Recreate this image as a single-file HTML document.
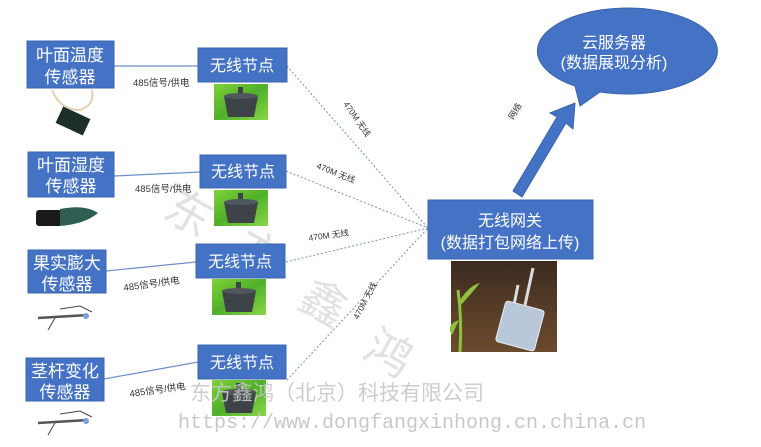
<!DOCTYPE html>
<html><head><meta charset="utf-8"><style>
html,body{margin:0;padding:0;background:#fff;width:761px;height:447px;overflow:hidden}
svg text{font-family:"Liberation Sans","Noto Sans CJK SC",sans-serif}
</style></head><body>
<svg width="761" height="447" viewBox="0 0 761 447" xmlns="http://www.w3.org/2000/svg">
<defs>
<linearGradient id="grass" x1="0" y1="0" x2="1" y2="1"><stop offset="0" stop-color="#7fd23a"/><stop offset="0.5" stop-color="#4fb02a"/><stop offset="1" stop-color="#8bd648"/></linearGradient>
<linearGradient id="soil" x1="0" y1="0" x2="0" y2="1"><stop offset="0" stop-color="#3a2a1e"/><stop offset="0.6" stop-color="#5a3f28"/><stop offset="1" stop-color="#6b4a2e"/></linearGradient>
<g id="node">
<rect x="0" y="0" width="54" height="36" fill="url(#grass)"/>
<path d="M10 12 L44 12 L40 33 L14 33 Z" fill="#3d4347"/>
<rect x="24" y="3" width="5" height="11" fill="#3d4347"/>
<ellipse cx="27" cy="12" rx="17" ry="3" fill="#50575c"/>
</g>
</defs>

<g fill="#dcdcdc" font-size="46" opacity="0.85">
<text x="165" y="230" transform="rotate(30 190 215)">东</text>
<text x="235" y="270" transform="rotate(30 260 255)">方</text>
<text x="300" y="320" transform="rotate(30 325 305)">鑫</text>
<text x="365" y="370" transform="rotate(30 390 355)">鸿</text>
</g>

<g stroke="#6f8fc8" stroke-width="1.2">
<line x1="114" y1="66" x2="198" y2="66"/>
<line x1="114" y1="176" x2="200" y2="172"/>
<line x1="106" y1="271" x2="196" y2="262"/>
<line x1="104" y1="379" x2="198" y2="362"/>
</g>
<g stroke="#7a8fc0" stroke-width="1" stroke-dasharray="2,2">
<line x1="287" y1="66" x2="428" y2="228"/>
<line x1="286" y1="171" x2="428" y2="228"/>
<line x1="286" y1="262" x2="428" y2="228"/>
<line x1="287" y1="380" x2="428" y2="228"/>
</g>

<g fill="#4472c4" stroke="#3a64ad">
<rect x="27" y="41" width="87" height="47"/>
<rect x="28" y="152" width="86" height="45"/>
<rect x="28" y="250" width="78" height="43"/>
<rect x="26" y="358" width="78" height="43"/>
</g>
<g fill="#fff" font-size="17" text-anchor="middle">
<text x="70" y="61">叶面温度</text><text x="70" y="83">传感器</text>
<text x="71" y="171">叶面湿度</text><text x="71" y="192">传感器</text>
<text x="67" y="269">果实膨大</text><text x="67" y="290">传感器</text>
<text x="65" y="377">茎杆变化</text><text x="65" y="398">传感器</text>
</g>
<g fill="#333" font-size="9.5">
<text x="133" y="86">485信号/供电</text>
<text x="135" y="192">485信号/供电</text>
<text x="124" y="291" transform="rotate(-8 124 291)">485信号/供电</text>
<text x="130" y="397" transform="rotate(-8 130 397)">485信号/供电</text>
</g>

<path d="M52 90 Q60 110 80 110 Q95 105 92 90" fill="none" stroke="#e2d0b0" stroke-width="2"/>
<rect x="58" y="112" width="30" height="18" fill="#1d2f2a" transform="rotate(25 73 121)"/>
<rect x="36" y="210" width="26" height="16" rx="3" fill="#1a1a1a"/>
<path d="M60 209 Q85 204 98 213 Q85 224 60 226 Z" fill="#2f5e55"/>
<g stroke="#555" stroke-width="2.5"><line x1="38" y1="318" x2="88" y2="315"/><line x1="38" y1="423" x2="88" y2="420"/></g>
<g stroke="#444" stroke-width="1" fill="none"><path d="M55 318 L48 330 M60 309 L80 306 L92 312"/><path d="M55 423 L48 435 M60 414 L80 411 L92 417"/></g>
<circle cx="86" cy="316" r="3" fill="#7aa0e0"/><circle cx="86" cy="421" r="3" fill="#7aa0e0"/>

<g fill="#4472c4" stroke="#3a64ad">
<rect x="198" y="48" width="89" height="34"/>
<rect x="200" y="155" width="86" height="33"/>
<rect x="196" y="244" width="89" height="34"/>
<rect x="198" y="345" width="88" height="34"/>
</g>
<g fill="#fff" font-size="16" text-anchor="middle">
<text x="242" y="71">无线节点</text>
<text x="243" y="177">无线节点</text>
<text x="240" y="267">无线节点</text>
<text x="242" y="368">无线节点</text>
</g>
<use href="#node" x="214" y="84"/>
<use href="#node" x="214" y="190"/>
<use href="#node" x="212" y="279"/>
<use href="#node" x="212" y="380"/>

<g fill="#333" font-size="8.5">
<text x="343" y="104" transform="rotate(55 343 104)">470M 无线</text>
<text x="316" y="168" transform="rotate(22 316 168)">470M 无线</text>
<text x="309" y="241" transform="rotate(-8 309 241)">470M 无线</text>
<text x="358" y="320" transform="rotate(-62 358 320)">470M 无线</text>
<text x="513" y="120" transform="rotate(-58 513 120)">网络</text>
</g>

<rect x="428" y="200" width="165" height="59" fill="#4472c4" stroke="#3a64ad"/>
<g fill="#fff" font-size="16" text-anchor="middle">
<text x="510" y="226">无线网关</text>
<text x="510" y="248">(数据打包网络上传)</text>
</g>
<rect x="451" y="261" width="106" height="91" fill="url(#soil)"/>
<path d="M460 352 Q462 320 458 290" stroke="#8fc040" stroke-width="3" fill="none"/>
<path d="M460 300 Q470 285 480 283 Q470 295 461 305 Z M459 320 Q445 325 452 335 Z" fill="#8fc040"/>
<line x1="525" y1="305" x2="533" y2="268" stroke="#d8dde2" stroke-width="3"/>
<line x1="513" y1="310" x2="518" y2="285" stroke="#d8dde2" stroke-width="3"/>
<rect x="500" y="305" width="40" height="42" rx="3" fill="#b9c8d8" stroke="#e8eef4" transform="rotate(15 520 326)"/>

<path d="M513 191 L557 117 L550 113 L575 103 L573 129 L566 123 L522 197 Z" fill="#4472c4" stroke="#3a64ad"/>

<path d="M575 86 A90 43 0 1 1 600 92 L580 106 Z" fill="#4472c4" stroke="#3a64ad"/>
<g fill="#fff" font-size="16" text-anchor="middle">
<text x="614" y="48">云服务器</text>
<text x="614" y="68">(数据展现分析)</text>
</g>

<text x="190" y="400" font-size="21" fill="#c8c8c8" opacity="0.9">东方鑫鸿（北京）科技有限公司</text>
<text x="178" y="428" font-size="20" fill="#c8c8c8" style="font-family:'Liberation Mono',monospace">https://www.dongfangxinhong.cn.china.cn</text>
</svg>
</body></html>
